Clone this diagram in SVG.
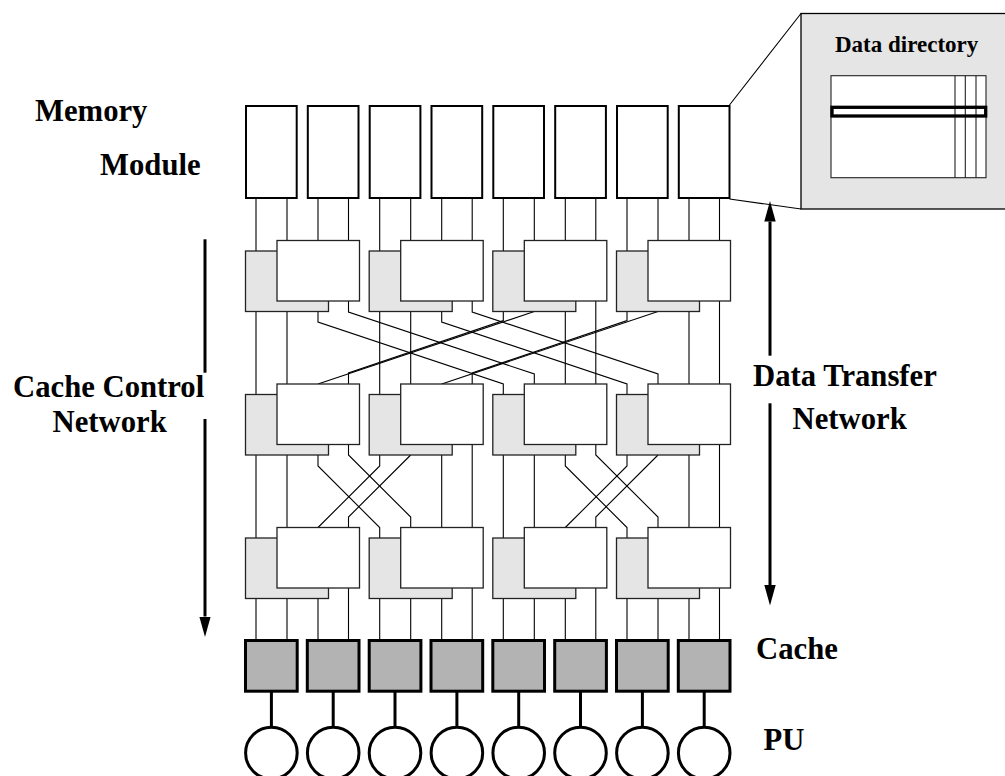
<svg xmlns="http://www.w3.org/2000/svg" width="1005" height="776" viewBox="0 0 1005 776">
  <defs>
    <style>
      .conn { fill: none; stroke: #000; stroke-width: 1.1; }
      .gsw { fill: #e5e5e5; stroke: #222; stroke-width: 1.3; }
      .wsw { fill: #fff; stroke: #222; stroke-width: 1.3; }
      .mem { fill: #fff; stroke: #000; stroke-width: 2; }
      .cache { fill: #b3b3b3; stroke: #000; stroke-width: 3; }
      .pu { fill: #fff; stroke: #000; stroke-width: 3; }
      .stem { stroke: #000; stroke-width: 3; }
      .arrow { stroke: #000; stroke-width: 3; fill: none; }
      .lbl { font-family: "Liberation Serif", "Times New Roman", serif; font-weight: bold; font-size: 30.7px; fill: #000; }
      .small { font-size: 23px; }
    </style>
    <marker id="head" viewBox="0 -6 21 12" refX="0" refY="0" markerWidth="21" markerHeight="12" markerUnits="userSpaceOnUse" orient="auto">
      <path d="M0,-5.7 L20.5,0 L0,5.7 z" fill="#000"/>
    </marker>
  </defs>

  <rect width="1005" height="776" fill="#fff"/>

  <!-- connectors: module links, butterfly stages, cache links -->
  <g id="connectors" class="conn">
    <!-- memory modules to first stage -->
    <path d="M256,199V251 M287,199V240.5 M318,199V240.5 M348.5,199V240.5"/>
    <path d="M379.7,199V251 M410.7,199V240.5 M441.7,199V240.5 M472.2,199V240.5"/>
    <path d="M503.3,199V251 M534.3,199V240.5 M565.3,199V240.5 M595.8,199V240.5"/>
    <path d="M627,199V251 M658,199V240.5 M689,199V240.5 M719.5,199V240.5"/>

    <!-- stage 1 to stage 2: straight links -->
    <path d="M256,311.5V394.5 M287,311.5V384 M379.7,311.5V394.5 M410.7,311.5V384"/>
    <path d="M565.3,311.5V384 M595.8,301V384 M689,311.5V384 M719.5,301V384"/>
    <!-- stage 1 to stage 2: exchange over distance two -->
    <path d="M318,311.5V322L503.3,384V394.5"/>
    <path d="M348.5,301V312L534.3,374V384"/>
    <path d="M503.3,311.5V320.5L348.5,373V384"/>
    <path d="M534.3,311.5L318,384"/>
    <path d="M441.7,311.5V322L627,384V394.5"/>
    <path d="M472.2,301V312L658,374V384"/>
    <path d="M627,311.5V320.5L472.2,373V384"/>
    <path d="M658,311.5L441.7,384"/>

    <!-- stage 2 to stage 3: straight links -->
    <path d="M256,455V538 M287,455V527.5 M503.3,455V538 M534.3,455V527.5"/>
    <path d="M441.7,455V527.5 M472.2,444.5V527.5 M689,455V527.5 M719.5,444.5V527.5"/>
    <!-- stage 2 to stage 3: exchange with neighbour -->
    <path d="M318,455V466L379.7,527.5V538"/>
    <path d="M348.5,444.5V455L410.7,517V527.5"/>
    <path d="M379.7,455V466L318,527.5"/>
    <path d="M410.7,455L348.5,517V527.5"/>
    <path d="M565.3,455V466L627,527.5V538"/>
    <path d="M595.8,444.5V455L658,517V527.5"/>
    <path d="M627,455V466L565.3,527.5"/>
    <path d="M658,455L595.8,517V527.5"/>

    <!-- last stage to caches -->
    <path d="M256,598.5V639 M287,598.5V639 M318,598.5V639 M348.5,588V639"/>
    <path d="M379.7,598.5V639 M410.7,598.5V639 M441.7,598.5V639 M472.2,588V639"/>
    <path d="M503.3,598.5V639 M534.3,598.5V639 M565.3,598.5V639 M595.8,588V639"/>
    <path d="M627,598.5V639 M658,598.5V639 M689,598.5V639 M719.5,588V639"/>

    <!-- cache to processing unit stems -->
    <g class="stem">
      <line x1="271.4" y1="692" x2="271.4" y2="727.5"/>
      <line x1="333.2" y1="692" x2="333.2" y2="727.5"/>
      <line x1="395" y1="692" x2="395" y2="727.5"/>
      <line x1="456.9" y1="692" x2="456.9" y2="727.5"/>
      <line x1="518.7" y1="692" x2="518.7" y2="727.5"/>
      <line x1="580.5" y1="692" x2="580.5" y2="727.5"/>
      <line x1="642.4" y1="692" x2="642.4" y2="727.5"/>
      <line x1="704.2" y1="692" x2="704.2" y2="727.5"/>
    </g>

    <!-- zoom lines from the last module to the directory panel -->
    <path d="M729.5,105L801,13.5 M729.5,199L801,209"/>
  </g>

  <!-- memory modules -->
  <g id="mem-0"><rect class="mem" x="246" y="106" width="50.7" height="92"/></g>
  <g id="mem-1"><rect class="mem" x="307.8" y="106" width="50.7" height="92"/></g>
  <g id="mem-2"><rect class="mem" x="369.7" y="106" width="50.7" height="92"/></g>
  <g id="mem-3"><rect class="mem" x="431.5" y="106" width="50.7" height="92"/></g>
  <g id="mem-4"><rect class="mem" x="493.3" y="106" width="50.7" height="92"/></g>
  <g id="mem-5"><rect class="mem" x="555.2" y="106" width="50.7" height="92"/></g>
  <g id="mem-6"><rect class="mem" x="617" y="106" width="50.7" height="92"/></g>
  <g id="mem-7"><rect class="mem" x="678.8" y="106" width="50.7" height="92"/></g>

  <!-- switches: grey control switch behind white data switch -->
  <g id="sw-1-0"><rect class="gsw" x="245.5" y="251" width="83" height="60.5"/><rect class="wsw" x="277" y="240.5" width="82.5" height="60.5"/></g>
  <g id="sw-1-1"><rect class="gsw" x="369.2" y="251" width="83" height="60.5"/><rect class="wsw" x="400.7" y="240.5" width="82.5" height="60.5"/></g>
  <g id="sw-1-2"><rect class="gsw" x="492.8" y="251" width="83" height="60.5"/><rect class="wsw" x="524.3" y="240.5" width="82.5" height="60.5"/></g>
  <g id="sw-1-3"><rect class="gsw" x="616.5" y="251" width="83" height="60.5"/><rect class="wsw" x="648" y="240.5" width="82.5" height="60.5"/></g>

  <g id="sw-2-0"><rect class="gsw" x="245.5" y="394.5" width="83" height="60.5"/><rect class="wsw" x="277" y="384" width="82.5" height="60.5"/></g>
  <g id="sw-2-1"><rect class="gsw" x="369.2" y="394.5" width="83" height="60.5"/><rect class="wsw" x="400.7" y="384" width="82.5" height="60.5"/></g>
  <g id="sw-2-2"><rect class="gsw" x="492.8" y="394.5" width="83" height="60.5"/><rect class="wsw" x="524.3" y="384" width="82.5" height="60.5"/></g>
  <g id="sw-2-3"><rect class="gsw" x="616.5" y="394.5" width="83" height="60.5"/><rect class="wsw" x="648" y="384" width="82.5" height="60.5"/></g>

  <g id="sw-3-0"><rect class="gsw" x="245.5" y="538" width="83" height="60.5"/><rect class="wsw" x="277" y="527.5" width="82.5" height="60.5"/></g>
  <g id="sw-3-1"><rect class="gsw" x="369.2" y="538" width="83" height="60.5"/><rect class="wsw" x="400.7" y="527.5" width="82.5" height="60.5"/></g>
  <g id="sw-3-2"><rect class="gsw" x="492.8" y="538" width="83" height="60.5"/><rect class="wsw" x="524.3" y="527.5" width="82.5" height="60.5"/></g>
  <g id="sw-3-3"><rect class="gsw" x="616.5" y="538" width="83" height="60.5"/><rect class="wsw" x="648" y="527.5" width="82.5" height="60.5"/></g>

  <!-- caches -->
  <g id="cache-0"><rect class="cache" x="245.5" y="640.5" width="51.7" height="50.7"/></g>
  <g id="cache-1"><rect class="cache" x="307.3" y="640.5" width="51.7" height="50.7"/></g>
  <g id="cache-2"><rect class="cache" x="369.2" y="640.5" width="51.7" height="50.7"/></g>
  <g id="cache-3"><rect class="cache" x="431" y="640.5" width="51.7" height="50.7"/></g>
  <g id="cache-4"><rect class="cache" x="492.8" y="640.5" width="51.7" height="50.7"/></g>
  <g id="cache-5"><rect class="cache" x="554.7" y="640.5" width="51.7" height="50.7"/></g>
  <g id="cache-6"><rect class="cache" x="616.5" y="640.5" width="51.7" height="50.7"/></g>
  <g id="cache-7"><rect class="cache" x="678.3" y="640.5" width="51.7" height="50.7"/></g>

  <!-- processing units -->
  <g id="pu-0"><circle class="pu" cx="271.4" cy="753" r="25.8"/></g>
  <g id="pu-1"><circle class="pu" cx="333.2" cy="753" r="25.8"/></g>
  <g id="pu-2"><circle class="pu" cx="395" cy="753" r="25.8"/></g>
  <g id="pu-3"><circle class="pu" cx="456.9" cy="753" r="25.8"/></g>
  <g id="pu-4"><circle class="pu" cx="518.7" cy="753" r="25.8"/></g>
  <g id="pu-5"><circle class="pu" cx="580.5" cy="753" r="25.8"/></g>
  <g id="pu-6"><circle class="pu" cx="642.4" cy="753" r="25.8"/></g>
  <g id="pu-7"><circle class="pu" cx="704.2" cy="753" r="25.8"/></g>

  <!-- data directory detail -->
  <g id="directory">
    <rect x="801" y="13.5" width="210" height="195.5" fill="#e5e5e5" stroke="#000" stroke-width="1.3"/>
    <text class="lbl small" x="835" y="51.5">Data directory</text>
    <rect x="831" y="75.7" width="155" height="102" fill="#fff" stroke="#222" stroke-width="1.1"/>
    <path d="M955,75.7V177.7 M965.3,75.7V177.7 M976,75.7V177.7" stroke="#222" stroke-width="1.1" fill="none"/>
    <rect x="832" y="107.3" width="153.7" height="8.7" fill="none" stroke="#000" stroke-width="3.3"/>
  </g>

  <!-- network direction arrows -->
  <g id="arrow-control">
    <line class="arrow" x1="205" y1="239.3" x2="205" y2="372.7"/>
    <line class="arrow" x1="205" y1="419" x2="205" y2="616.5" marker-end="url(#head)"/>
  </g>
  <g id="arrow-transfer">
    <line class="arrow" x1="770" y1="355.7" x2="770" y2="221.5" marker-end="url(#head)"/>
    <line class="arrow" x1="770" y1="403.3" x2="770" y2="585" marker-end="url(#head)"/>
  </g>

  <!-- labels -->
  <g id="labels">
    <text class="lbl" x="35" y="121">Memory</text>
    <text class="lbl" x="100" y="175">Module</text>
    <text class="lbl" x="13" y="397.3">Cache Control</text>
    <text class="lbl" x="52.5" y="432.3">Network</text>
    <text class="lbl" x="753" y="386">Data Transfer</text>
    <text class="lbl" x="792.5" y="429.3">Network</text>
    <text class="lbl" x="756" y="659">Cache</text>
    <text class="lbl" x="763.5" y="750">PU</text>
  </g>
</svg>
